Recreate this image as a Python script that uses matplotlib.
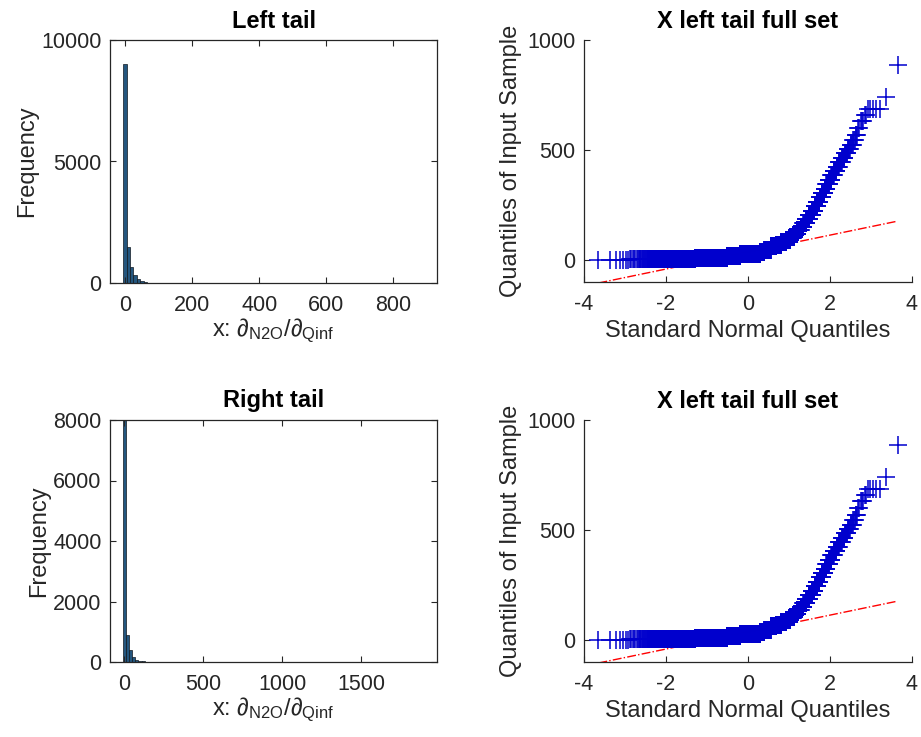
import numpy as np
import matplotlib
matplotlib.use("Agg")
import matplotlib.pyplot as plt
from statistics import NormalDist

plt.rcParams['font.family'] = ['Liberation Sans', 'DejaVu Sans']
plt.rcParams['mathtext.fontset'] = 'custom'
plt.rcParams['mathtext.rm'] = 'Liberation Sans'
plt.rcParams['mathtext.it'] = 'Liberation Sans:italic'
plt.rcParams['axes.unicode_minus'] = False

# ---------------- data ----------------
# Left tail histogram (bin width 10)
left_bin_start = -5
left_bin_width = 10
left_counts = [9000, 1490, 670, 330, 150, 70, 35, 20, 12, 9,
               7, 5, 4, 4, 3, 3, 3, 2, 2, 2,
               2, 2, 2, 2, 2, 1, 2, 1, 1, 2,
               1, 1, 1, 1, 1, 1, 1, 1, 1, 1,
               1, 1, 1, 1, 1, 1, 1, 1, 1, 1,
               1, 1, 0, 1, 1, 1, 0, 1, 1, 0,
               1, 0, 1, 0, 1, 1, 0, 1, 0, 0,
               1, 0, 1, 0, 0, 1, 0, 0, 1, 0,
               0, 0, 1, 0, 0, 0, 0, 0, 0, 1]

# Right tail histogram (bin width 20)
right_bin_start = -10
right_bin_width = 20
right_counts = [11000, 890, 400, 175, 80, 35, 18, 12, 8, 6,
                5, 4, 4, 3, 3, 3, 2, 2, 2, 2,
                2, 2, 2, 1, 2, 1, 1, 1, 1, 1,
                1, 1, 1, 1, 1, 1, 1, 1, 1, 1,
                1, 1, 0, 1, 1, 0, 1, 1, 0, 1,
                0, 1, 1, 0, 1, 0, 0, 1, 0, 1,
                0, 0, 1, 0, 0, 1, 0, 0, 0, 1,
                0, 0, 1, 0, 0, 0, 1, 0, 0, 0,
                0, 1, 0, 0, 0, 0, 0, 0, 0, 0,
                0, 0, 0, 0, 1]

# QQ sample: sorted distinct sample values and their multiplicities
qq_values = [0, 3, 10, 19, 28, 36, 46, 62, 70, 80,
             92, 105, 120, 135, 150, 168, 186, 205, 225, 245,
             265, 285, 305, 325, 345, 365, 385, 405, 425, 445,
             465, 485, 505, 525, 545, 570, 600, 630, 660, 685,
             742, 886]
qq_counts = [7, 367, 772, 453, 735, 157, 202, 164, 138, 126,
             94, 86, 62, 56, 45, 40, 32, 34, 30, 23,
             22, 19, 17, 12, 14, 12, 11, 10, 8, 9,
             7, 6, 5, 4, 3, 3, 2, 3, 2, 5,
             1, 1]

titles = ["Left tail", "X left tail full set", "Right tail", "X left tail full set"]
hist_xlabel = r'x: $\partial_{\mathrm{N2O}}/\partial_{\mathrm{Qinf}}$'
hist_ylabel = "Frequency"
qq_xlabel = "Standard Normal Quantiles"
qq_ylabel = "Quantiles of Input Sample"

# ---------------- figure ----------------
W, H = 921, 737
fig = plt.figure(figsize=(W / 100, H / 100), dpi=100)

def rect(l, t, r, b):
    return [l / W, 1 - b / H, (r - l) / W, (b - t) / H]

ax_tl = fig.add_axes(rect(110, 40, 437, 283))
ax_tr = fig.add_axes(rect(584, 40, 912, 282))
ax_bl = fig.add_axes(rect(110, 420, 437, 662))
ax_br = fig.add_axes(rect(584, 420, 912, 662))

txt = '#262626'
face = '#24567e'
tick_fs = 15.5
lab_fs = 17

def style(ax, box=True):
    for s in ax.spines.values():
        s.set_color(txt)
        s.set_linewidth(0.9)
    if not box:
        ax.spines['top'].set_visible(False)
        ax.spines['right'].set_visible(False)
    ax.tick_params(direction='in', length=4, width=0.8, colors=txt,
                   labelsize=tick_fs, top=box, right=box)
    ax.tick_params(axis='x', pad=9)
    ax.tick_params(axis='y', pad=6)

def hist(ax, start, width, counts, xlim, ylim, xticks, yticks, title):
    edges = start + width * np.arange(len(counts) + 1)
    ax.bar(edges[:-1], counts, width=width, align='edge', color=face,
           edgecolor='#101820', linewidth=0.5)
    ax.set_xlim(*xlim)
    ax.set_ylim(*ylim)
    ax.set_xticks(xticks)
    ax.set_yticks(yticks)
    ax.set_title(title, fontsize=lab_fs, fontweight='bold', pad=9)
    ax.set_xlabel(hist_xlabel, fontsize=lab_fs, color=txt, labelpad=0)
    ax.set_ylabel(hist_ylabel, fontsize=lab_fs, color=txt, labelpad=2)
    style(ax, True)

hist(ax_tl, left_bin_start, left_bin_width, left_counts, (-45, 930), (0, 10000),
     [0, 200, 400, 600, 800], [0, 5000, 10000], titles[0])
hist(ax_bl, right_bin_start, right_bin_width, right_counts, (-90, 1980), (0, 8000),
     [0, 500, 1000, 1500], [0, 2000, 4000, 6000, 8000], titles[2])

def qq(ax, title):
    y = np.repeat(np.array(qq_values, float), qq_counts)
    n = len(y)
    nd = NormalDist()
    z = np.array([nd.inv_cdf((i - 0.5) / n) for i in range(1, n + 1)])
    q1, q3 = np.percentile(y, [25, 75])
    z1, z3 = nd.inv_cdf(0.25), nd.inv_cdf(0.75)
    slope = (q3 - q1) / (z3 - z1)
    icpt = q1 - slope * z1
    zz = np.array([z.min(), z.max()])
    ax.plot(zz, icpt + slope * zz, color='red', linestyle='-.', linewidth=1.0, zorder=1)
    ax.plot([z1, z3], [q1, q3], color='red', linestyle='-', linewidth=1.0, zorder=1)
    ax.plot(z, y, linestyle='none', marker='+', color='#0000CD',
            markersize=13, markeredgewidth=1.1, zorder=2)
    ax.set_xlim(-4, 4)
    ax.set_ylim(-100, 1000)
    ax.set_xticks([-4, -2, 0, 2, 4])
    ax.set_yticks([0, 500, 1000])
    ax.set_title(title, fontsize=lab_fs, fontweight='bold', pad=9)
    ax.set_xlabel(qq_xlabel, fontsize=lab_fs, color=txt, labelpad=3)
    ax.set_ylabel(qq_ylabel, fontsize=lab_fs, color=txt, labelpad=4)
    style(ax, False)

qq(ax_tr, titles[1])
qq(ax_br, titles[3])

fig.savefig("out.png", dpi=100, facecolor='white')
